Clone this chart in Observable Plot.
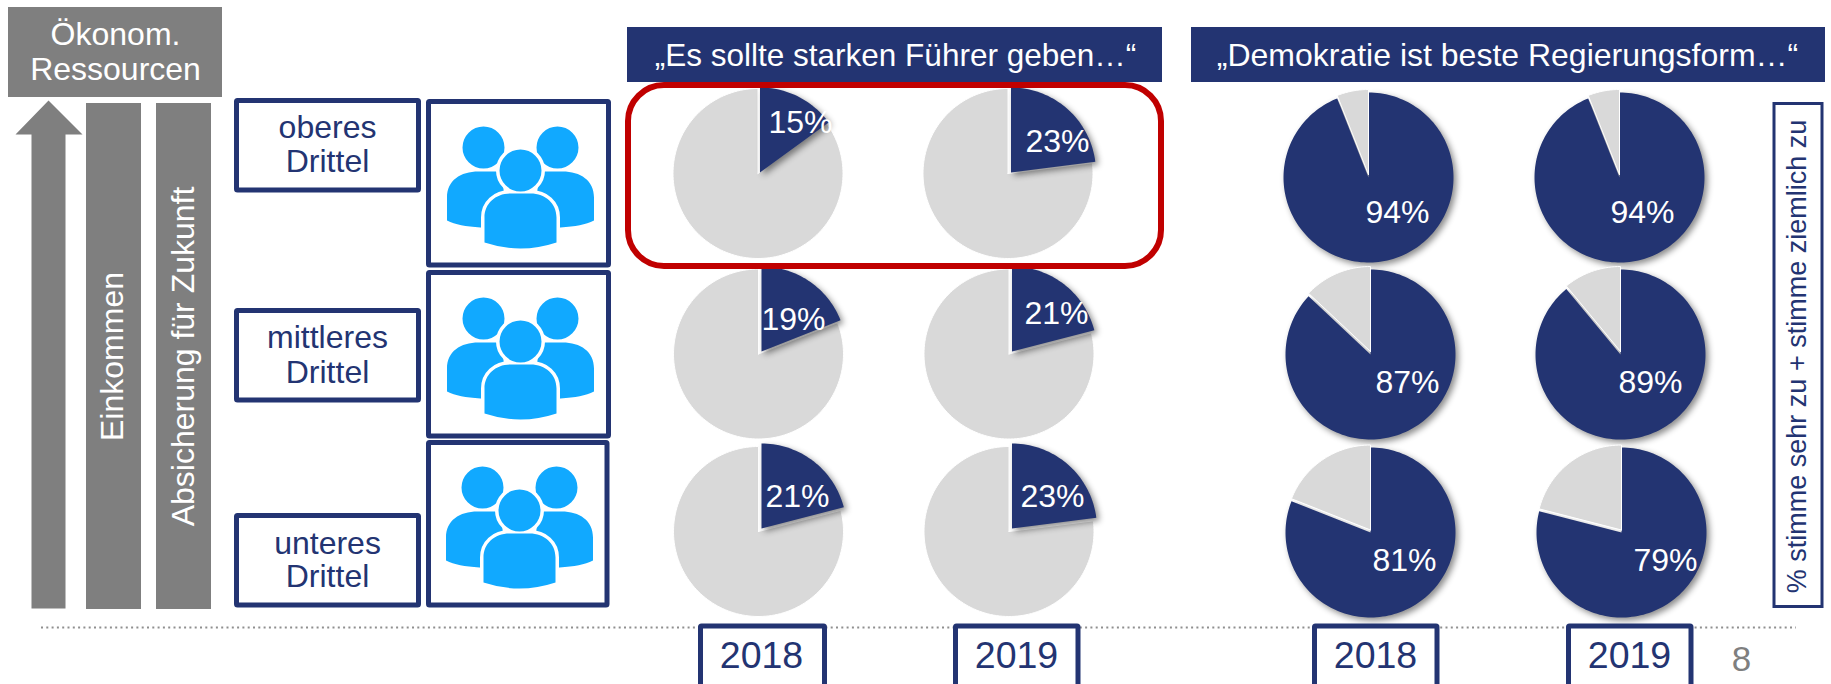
<!DOCTYPE html>
<html><head><meta charset="utf-8">
<script src="https://cdn.jsdelivr.net/npm/d3@7"></script>
<script src="https://cdn.jsdelivr.net/npm/@observablehq/plot@0.6"></script>
<style>html,body{margin:0;padding:0;background:#fff;overflow:hidden}</style>
</head><body><div id="chart"></div>
<script>
// ---- data ----
const groups = ["oberes\nDrittel", "mittleres\nDrittel", "unteres\nDrittel"];
const years = ["2018", "2019", "2018", "2019"];
const questions = ["„Es sollte starken Führer geben…“", "„Demokratie ist beste Regierungsform…“"];
const strongLeader2018 = [15, 19, 21];
const strongLeader2019 = [23, 21, 23];
const democracy2018 = [94, 87, 81];
const democracy2019 = [94, 89, 79];
const resourcesTitle = ["Ökonom.", "Ressourcen"];
const sideLabels = ["Einkommen", "Absicherung für Zukunft"];
const unitNote = "% stimme sehr zu + stimme ziemlich zu";
const pageNumber = "8";

// ---- styles and layout ----
const NAVY = "#233472", GREY = "#7f7f7f", PIE = "#d9d9d9", RED = "#c00000", ICON = "#11a9ff";
const R = 85;
const FONT = "'Liberation Sans', Arial, sans-serif";
const pieY = [[173, 353.5, 531], [177, 354, 532]];
const pieXRow = [[[757.5,1007.5],[758,1008.5],[758,1008.5]], [[1368,1619],[1370,1620],[1370,1621]]];
const explode = [
  [[[2,-1],[3,-1]], [[3,-2.5],[3,-2.5]], [[3,-3],[3,-3]]],
  [[[0,-3],[0,-3]], [[0,-3],[0,-3]], [[0,-2.5],[0,-2.5]]]
];
const labelPos = [
  [[[800,122],[1057,141]], [[793,319],[1056,313]], [[797,496],[1052,496]]],
  [[[1397,212],[1642,212]], [[1407,382],[1650,382]], [[1404,560],[1665,560]]]
];
const yearBoxes = [[700.5,824.5],[955.5,1078],[1314.5,1437],[1568.5,1691]];
const yearTextX = [761, 1016, 1375, 1629];
const groupBoxes = [[100.5,190],[310.5,400],[515.5,605]];
const groupTextY = [[127,161],[337,372],[543,576]];
const iconBoxes = [[428.5,608.5,101.5,265],[428.5,608.5,272.5,436],[428.5,607,442.5,605]];
const iconCenters = [[520,170],[520,341],[519,510]];
const titleBoxes = [[627,1162],[1191,1825]];
const titleTextX = [895, 1507];

// ---- pies: every slice is computed from its value ----
const sliceRows = [];
function slice(id, cx, cy, a0, a1, kind) {
  const n = Math.max(2, Math.ceil((a1 - a0) / 2));
  sliceRows.push({id, kind, px: cx, py: cy});
  for (let i = 0; i <= n; i++) {
    const a = (a0 + (a1 - a0) * i / n) * Math.PI / 180;
    sliceRows.push({id, kind, px: cx + R * Math.sin(a), py: cy - R * Math.cos(a)});
  }
  sliceRows.push({id, kind, px: cx, py: cy});
}
const panels = [[strongLeader2018, strongLeader2019], [democracy2018, democracy2019]];
const pctLabels = [];
panels.forEach((panel, p) => panel.forEach((series, c) => series.forEach((v, r) => {
  const cx = pieXRow[p][r][c], cy = pieY[p][r];
  const [dx, dy] = explode[p][r][c];
  const split = v * 3.6;
  const id = `${p}-${c}-${r}`;
  if (p === 0) {
    slice(id + "g", cx, cy, split, 360, "back");
    slice(id + "d", cx + dx, cy + dy, 0, split, "dark");
  } else {
    slice(id + "d", cx, cy, 0, split, "dark");
    slice(id + "g", cx + dx, cy + dy, split, 360, "front");
  }
  const [lx, ly] = labelPos[p][r][c];
  pctLabels.push({lx, ly, t: v + "%"});
})));

// ---- people icon as a Plot dot symbol ----
const backPeople = {draw(ctx) {
  for (const s of [-1, 1]) {
    ctx.moveTo(s * 37 + 21, -23);
    ctx.arc(s * 37, -23, 21, 0, 2 * Math.PI);
    ctx.moveTo(s * 73.5, 50);
    ctx.lineTo(s * 73.5, 27);
    ctx.bezierCurveTo(s * 73.5, 10, s * 60, 1, s * 42, 1);
    ctx.lineTo(s * 20, 1);
    ctx.lineTo(s * 10, 60);
    ctx.lineTo(s * 40, 57);
    ctx.bezierCurveTo(s * 55, 56, s * 65, 54, s * 73.5, 50);
    ctx.closePath();
  }
}};
const frontPerson = {draw(ctx) {
  ctx.moveTo(21, 0);
  ctx.arc(0, 0, 21, 0, 2 * Math.PI);
  ctx.moveTo(-36, 72);
  ctx.lineTo(-36, 47);
  ctx.bezierCurveTo(-36, 33, -25, 23, -10, 23);
  ctx.lineTo(10, 23);
  ctx.bezierCurveTo(25, 23, 36, 33, 36, 47);
  ctx.lineTo(36, 72);
  ctx.quadraticCurveTo(0, 84, -36, 72);
  ctx.closePath();
}};

const txt = (rows, o) => Plot.text(rows, {x: "x", y: "y", text: "t", lineAnchor: "middle", textAnchor: "middle", fontFamily: FONT, ...o});
const xy = (xs, ys, ts) => ts.map((t, i) => ({x: xs[i], y: ys[i], t}));

const groupLines = groups.flatMap((g, i) => g.split("\n").map((t, j) => ({x: 327, y: groupTextY[i][j], t})));

const chart = Plot.plot({
  width: 1831, height: 684,
  marginTop: 0, marginRight: 0, marginBottom: 0, marginLeft: 0,
  x: {domain: [0, 1831], range: [0, 1831], axis: null},
  y: {domain: [0, 684], range: [0, 684], axis: null},
  style: {background: "#fff", fontFamily: FONT},
  marks: [
    // left resource column
    Plot.rect([0], {x1: () => 8, x2: () => 222, y1: () => 7, y2: () => 97, fill: GREY}),
    Plot.line([[48,100],[82,134],[65,134],[65,608],[31,608],[31,134],[15,134],[48,100]], {x: d => d[0], y: d => d[1], fill: GREY, stroke: "none"}),
    Plot.rect([[86,141],[156,211]], {x1: d => d[0], x2: d => d[1], y1: () => 103, y2: () => 609, fill: GREY}),
    txt(xy([115,115],[34,69],resourcesTitle), {fill: "#fff", fontSize: 32}),
    txt(xy([112,183],[356,356],sideLabels), {fill: "#fff", fontSize: 32, rotate: -90}),

    // group boxes
    Plot.rect(groupBoxes, {x1: () => 236.5, x2: () => 418.5, y1: d => d[0], y2: d => d[1], fill: "#fff", stroke: NAVY, strokeWidth: 5, rx: 1}),
    txt(groupLines, {fill: NAVY, fontSize: 32}),
    Plot.rect(iconBoxes, {x1: d => d[0], x2: d => d[1], y1: d => d[2], y2: d => d[3], fill: "#fff", stroke: NAVY, strokeWidth: 5, rx: 1}),
    Plot.dot(iconCenters, {x: d => d[0], y: d => d[1], symbol: backPeople, fill: ICON, stroke: "none"}),
    Plot.dot(iconCenters, {x: d => d[0], y: d => d[1], symbol: frontPerson, fill: ICON, stroke: "#fff", strokeWidth: 7, paintOrder: "stroke"}),

    // pies
    Plot.line(sliceRows.filter(d => d.kind === "back"), {x: "px", y: "py", z: "id", fill: PIE, stroke: "#fff", strokeWidth: 1, curve: "linear"}),
    Plot.line(sliceRows.filter(d => d.kind === "dark"), {x: "px", y: "py", z: "id", fill: NAVY, stroke: "none", curve: "linear", imageFilter: "drop-shadow(3px 3px 3px rgba(0,0,0,.45))"}),
    Plot.line(sliceRows.filter(d => d.kind === "front"), {x: "px", y: "py", z: "id", fill: PIE, stroke: "#fff", strokeWidth: 1, curve: "linear"}),
    txt(pctLabels.map(d => ({x: d.lx, y: d.ly, t: d.t})), {fill: "#fff", fontSize: 32}),

    // titles
    Plot.rect(titleBoxes, {x1: d => d[0], x2: d => d[1], y1: () => 27, y2: () => 82, fill: NAVY}),
    txt(xy(titleTextX.slice(0,1),[55],questions.slice(0,1)), {fill: "#fff", fontSize: 31.5}),
    txt(xy(titleTextX.slice(1),[55],questions.slice(1)), {fill: "#fff", fontSize: 32}),

    // highlight
    Plot.rect([0], {x1: () => 628, x2: () => 1161, y1: () => 85, y2: () => 266, stroke: RED, strokeWidth: 6, fill: "none", rx: 36}),

    // note box
    Plot.rect([0], {x1: () => 1774, x2: () => 1822, y1: () => 103.5, y2: () => 606.5, stroke: NAVY, strokeWidth: 3, fill: "#fff"}),
    txt([{x: 1797, y: 356, t: unitNote}], {fill: NAVY, fontSize: 27, rotate: -90}),

    // footer
    Plot.ruleY([0], {x1: () => 41, x2: () => 1796, y: () => 627, stroke: "#8f8f8f", strokeWidth: 2, strokeDasharray: "2 3.3"}),
    Plot.rect(yearBoxes, {x1: d => d[0], x2: d => d[1], y1: () => 626, y2: () => 688, fill: "#fff", stroke: NAVY, strokeWidth: 5, rx: 1}),
    txt(xy(yearTextX,[655,655,655,655],years), {fill: NAVY, fontSize: 37.5}),
    txt([{x: 1741, y: 659, t: pageNumber}], {fill: GREY, fontSize: 35})
  ]
});
document.getElementById("chart").appendChild(chart);
</script></body></html>
